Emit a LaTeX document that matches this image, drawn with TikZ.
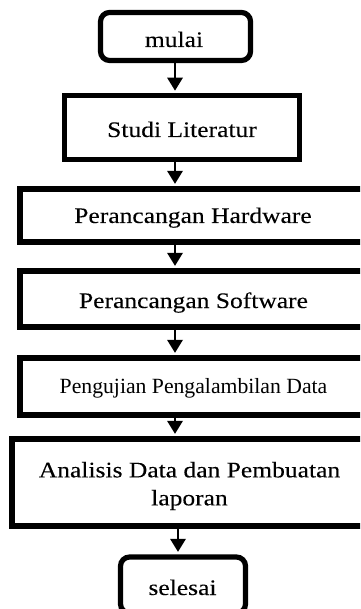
\documentclass[tikz,border=0pt]{standalone}
\usepackage{fontspec}
\setmainfont{Liberation Serif}
\newfontfamily\camfont{Liberation Serif}[FakeStretch=1.15, FakeBold=0.12]
\usetikzlibrary{arrows.meta}

\tikzset{
  box/.style={draw=black, line width=5.2pt, fill=white, inner sep=0pt},
  term/.style={box, rounded corners=9pt},
  lbl/.style={inner sep=0pt, anchor=base, font=\camfont\fontsize{22.2}{28}\selectfont},
  lblsmall/.style={inner sep=0pt, anchor=base, font=\fontsize{21.7}{26}\selectfont},
  flow/.style={draw=black, line width=2.6pt, shorten >=2.6pt,
    -{Triangle[width=16pt,length=13pt,line width=0pt]}}
}

\begin{document}
\begin{tikzpicture}[x=1pt, y=-1pt]
  \useasboundingbox (0,0) rectangle (360,609);
  \clip (0,0) rectangle (360,609);

  % boxes
  \node[term, minimum width=150pt, minimum height=48pt] (mulai)   at (175.5,36.5) {};
  \node[box,  minimum width=235pt, minimum height=64pt] (studi)   at (181.7,127.8) {};
  \node[box,  minimum width=346pt, minimum height=53pt] (hw)      at (193,215.5) {};
  \node[box,  minimum width=346pt, minimum height=56pt] (sw)      at (193,299) {};
  \node[box,  minimum width=346pt, minimum height=57pt] (uji)     at (193,386.5) {};
  \node[box,  minimum width=354pt, minimum height=87pt] (analisis) at (189,482.5) {};
  \node[term, minimum width=125pt, minimum height=56pt] (selesai) at (183,585) {};

  % labels
  \node[lbl] (tmulai)   at (174,47)    {mulai};
  \node[lbl] (tstudi)   at (182,137)   {Studi Literatur};
  \node[lbl] (thw)      at (193,223)   {Perancangan Hardware};
  \node[lbl] (tsw)      at (193.5,308) {Perancangan Software};
  \node[lblsmall] (tuji) at (193.5,393) {Pengujian Pengalambilan Data};
  \node[lbl, anchor=center, align=center] (tanalisis) at (189.5,486)
       {Analisis Data dan Pembuatan\\laporan};
  \node[lbl] (tselesai) at (182.5,595) {selesai};

  % connectors
  \draw[flow] (mulai.south -| 175,0)    -- (studi.north -| 175,0);
  \draw[flow] (studi.south -| 175,0)    -- (hw.north -| 175,0);
  \draw[flow] (hw.south -| 175,0)       -- (sw.north -| 175,0);
  \draw[flow] (sw.south -| 175,0)       -- (uji.north -| 175,0);
  \draw[flow] (uji.south -| 175,0)      -- (analisis.north -| 175,0);
  \draw[flow] (analisis.south -| 178,0) -- (selesai.north -| 178,0);
\end{tikzpicture}
\end{document}
